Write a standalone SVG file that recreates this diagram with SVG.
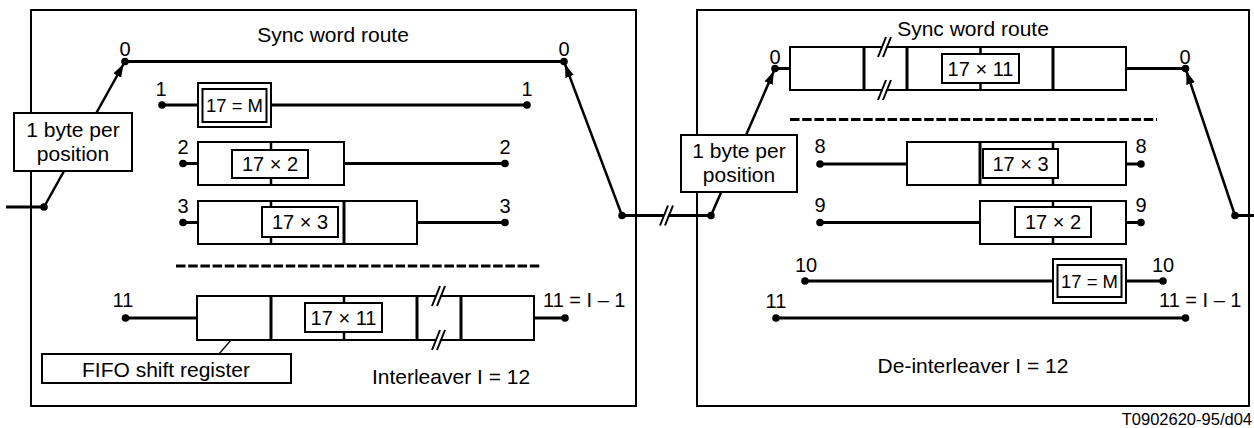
<svg xmlns="http://www.w3.org/2000/svg" width="1254" height="428" viewBox="0 0 1254 428">
<style>
.panel{fill:none;stroke:#000;stroke-width:2}
.box{fill:#fff;stroke:#000;stroke-width:2}
.ibox{fill:#fff;stroke:#000;stroke-width:2}
.dv{stroke:#000;stroke-width:3}
.pdv{stroke:#000;stroke-width:2.5}
.ln{stroke:#000;stroke-width:3;fill:none}
.arr{stroke:#000;stroke-width:2.5;fill:none;marker-end:url(#ah)}
.thin{stroke:#000;stroke-width:1.2;fill:none}
.dash{stroke:#000;stroke-width:3;stroke-dasharray:9.5 2.7;fill:none}
.dot{fill:#000}
text{font-family:"Liberation Sans",Arial,Helvetica,sans-serif;font-size:21px;fill:#000}
.num{font-size:20px}
.mm{font-size:18.5px}
.m{text-anchor:middle}
.s{font-size:16.5px}
.brk line{stroke:#000;stroke-width:2}
</style>
<defs>
<marker id="ah" markerWidth="14" markerHeight="9" refX="16" refY="4.5" orient="auto" markerUnits="userSpaceOnUse"><path d="M0,0 L13,4.5 L0,9 z" fill="#000"/></marker>
<g id="brk" class="brk"><polygon points="-7,10 1,-10 5,-10 -3,10" fill="#fff"/><line x1="-7" y1="10" x2="1" y2="-10"/><line x1="-2" y1="10" x2="6" y2="-10"/></g>
</defs>

<g id="interleaver-panel"><rect class="panel" x="31" y="10" width="605" height="396"/></g>
<g id="deinterleaver-panel"><rect class="panel" x="697" y="10" width="552" height="396"/></g>

<g id="connectors">
<line class="ln" x1="6" y1="207" x2="44" y2="207"/>
<line class="arr" x1="44" y1="207" x2="125" y2="61.5"/>
<line class="ln" x1="125" y1="61.5" x2="564" y2="61.5"/>
<line class="arr" x1="622" y1="215.5" x2="564" y2="61.5"/>
<line class="ln" x1="162" y1="105" x2="527" y2="105"/>
<line class="ln" x1="183" y1="163.5" x2="505" y2="163.5"/>
<line class="ln" x1="183" y1="222.5" x2="505" y2="222.5"/>
<line class="dash" x1="176" y1="266" x2="542" y2="266"/>
<line class="ln" x1="125.5" y1="318" x2="565" y2="318"/>
<line class="thin" x1="237" y1="333" x2="219" y2="354"/>
<line class="ln" x1="622" y1="215.5" x2="711" y2="215.5"/>
<line class="arr" x1="711" y1="215.5" x2="775" y2="68.5"/>
<line class="ln" x1="775" y1="68.5" x2="1185.5" y2="68.5"/>
<line class="arr" x1="1235" y1="215.5" x2="1185.5" y2="68.5"/>
<line class="ln" x1="1235" y1="215.5" x2="1254" y2="215.5"/>
<line class="dash" x1="790" y1="119.5" x2="1157" y2="119.5"/>
<line class="ln" x1="820" y1="164" x2="1141" y2="164"/>
<line class="ln" x1="820" y1="222.5" x2="1141" y2="222.5"/>
<line class="ln" x1="805" y1="281" x2="1163" y2="281"/>
<line class="ln" x1="776" y1="318" x2="1185.5" y2="318"/>
<use href="#brk" x="667" y="215.5"/>
</g>

<g id="input-note">
<rect class="box" x="14" y="113" width="118" height="58"/>
<text class="m" x="73" y="137">1 byte per</text>
<text class="m" x="73" y="161">position</text>
</g>
<g id="link-note">
<rect class="box" x="681" y="135" width="116" height="57"/>
<text class="m" x="739" y="158">1 byte per</text>
<text class="m" x="739" y="182">position</text>
</g>

<g id="il-row0">
<text class="m" x="333" y="42">Sync word route</text>
<text class="m num" x="125" y="56">0</text>
<text class="m num" x="564" y="56">0</text>
<circle class="dot" cx="125" cy="61.5" r="3.8"/><circle class="dot" cx="564" cy="61.5" r="3.8"/>
</g>
<g id="il-row1">
<text class="m num" x="161" y="96">1</text>
<text class="m num" x="527" y="96">1</text>
<rect class="box" x="198" y="83" width="73" height="44"/>
<rect class="ibox" x="202.5" y="89" width="64" height="33"/>
<text class="m mm" x="234.5" y="112">17 = M</text>
<circle class="dot" cx="162" cy="105" r="3.8"/><circle class="dot" cx="527" cy="105" r="3.8"/>
</g>
<g id="il-row2">
<text class="m num" x="183" y="154">2</text>
<text class="m num" x="505" y="154">2</text>
<rect class="box" x="198" y="142" width="146" height="43"/>
<line class="pdv" x1="271" y1="142" x2="271" y2="185"/>
<rect class="ibox" x="232" y="150" width="76" height="28"/>
<text class="m num" x="270" y="171">17 × 2</text>
<circle class="dot" cx="183" cy="163.5" r="3.8"/><circle class="dot" cx="505" cy="163.5" r="3.8"/>
</g>
<g id="il-row3">
<text class="m num" x="183" y="213">3</text>
<text class="m num" x="505" y="213">3</text>
<rect class="box" x="198" y="201" width="219" height="43"/>
<line class="pdv" x1="271" y1="201" x2="271" y2="244"/>
<line class="dv" x1="344" y1="201" x2="344" y2="244"/>
<rect class="ibox" x="262" y="207" width="76" height="30"/>
<text class="m num" x="300" y="229">17 × 3</text>
<circle class="dot" cx="183" cy="222.5" r="3.8"/><circle class="dot" cx="505" cy="222.5" r="3.8"/>
</g>
<g id="il-row11">
<text class="m num" x="123" y="307">11</text>
<text class="num" x="543" y="307">11 = I – 1</text>
<rect class="box" x="197" y="296" width="337" height="44"/>
<line class="dv" x1="271" y1="296" x2="271" y2="340"/>
<line class="pdv" x1="344" y1="296" x2="344" y2="340"/>
<line class="dv" x1="417" y1="296" x2="417" y2="340"/>
<line class="dv" x1="461" y1="296" x2="461" y2="340"/>
<rect class="ibox" x="305" y="303" width="77" height="29"/>
<text class="m num" x="343.5" y="325">17 × 11</text>
<use href="#brk" x="439" y="296"/>
<use href="#brk" x="439" y="340"/>
<circle class="dot" cx="125.5" cy="318" r="3.8"/><circle class="dot" cx="565" cy="318" r="3.8"/>
</g>
<g id="fifo-note">
<rect class="box" x="42" y="354" width="249" height="29"/>
<text class="m" x="166" y="377">FIFO shift register</text>
</g>
<g id="il-title"><text class="m" x="451" y="384">Interleaver I = 12</text></g>
<g id="il-switch-points">
<circle class="dot" cx="44" cy="207" r="3.8"/>
<circle class="dot" cx="622" cy="215.5" r="3.8"/>
</g>

<g id="dl-row0">
<text class="m" x="973" y="36">Sync word route</text>
<text class="m num" x="775" y="64">0</text>
<text class="m num" x="1185" y="64">0</text>
<rect class="box" x="790" y="47" width="336" height="43"/>
<line class="dv" x1="864" y1="47" x2="864" y2="90"/>
<line class="dv" x1="907" y1="47" x2="907" y2="90"/>
<line class="pdv" x1="980.5" y1="47" x2="980.5" y2="90"/>
<line class="dv" x1="1053" y1="47" x2="1053" y2="90"/>
<rect class="ibox" x="942" y="54" width="77" height="29"/>
<text class="m num" x="980.5" y="76">17 × 11</text>
<use href="#brk" x="885" y="47"/>
<use href="#brk" x="885" y="90"/>
<circle class="dot" cx="775" cy="68.5" r="3.8"/><circle class="dot" cx="1185.5" cy="68.5" r="3.8"/>
</g>
<g id="dl-row8">
<text class="m num" x="820" y="153">8</text>
<text class="m num" x="1141" y="153">8</text>
<rect class="box" x="907" y="142" width="219" height="43"/>
<line class="dv" x1="980" y1="142" x2="980" y2="185"/>
<line class="pdv" x1="1053" y1="142" x2="1053" y2="185"/>
<rect class="ibox" x="983" y="149" width="75" height="29"/>
<text class="m num" x="1020.5" y="171">17 × 3</text>
<circle class="dot" cx="820" cy="164" r="3.8"/><circle class="dot" cx="1141" cy="164" r="3.8"/>
</g>
<g id="dl-row9">
<text class="m num" x="820" y="212">9</text>
<text class="m num" x="1141" y="212">9</text>
<rect class="box" x="980" y="201" width="146" height="43"/>
<line class="pdv" x1="1053" y1="201" x2="1053" y2="244"/>
<rect class="ibox" x="1015" y="207" width="76" height="30"/>
<text class="m num" x="1053" y="229">17 × 2</text>
<circle class="dot" cx="820" cy="222.5" r="3.8"/><circle class="dot" cx="1141" cy="222.5" r="3.8"/>
</g>
<g id="dl-row10">
<text class="m num" x="806" y="272">10</text>
<text class="m num" x="1163" y="272">10</text>
<rect class="box" x="1053" y="259" width="73" height="44"/>
<rect class="ibox" x="1057.5" y="265" width="64" height="32"/>
<text class="m mm" x="1089.5" y="288">17 = M</text>
<circle class="dot" cx="805" cy="281" r="3.8"/><circle class="dot" cx="1163" cy="281" r="3.8"/>
</g>
<g id="dl-row11">
<text class="m num" x="776" y="308">11</text>
<text class="num" x="1159" y="307">11 = I – 1</text>
<circle class="dot" cx="776" cy="318" r="3.8"/><circle class="dot" cx="1185.5" cy="318" r="3.8"/>
</g>
<g id="dl-title"><text class="m" x="973" y="373">De-interleaver I = 12</text></g>
<g id="dl-switch-points">
<circle class="dot" cx="711" cy="215.5" r="3.8"/>
<circle class="dot" cx="1235" cy="215.5" r="3.8"/>
</g>
<g id="figure-id"><text class="s" x="1252" y="425" text-anchor="end">T0902620-95/d04</text></g>
</svg>
